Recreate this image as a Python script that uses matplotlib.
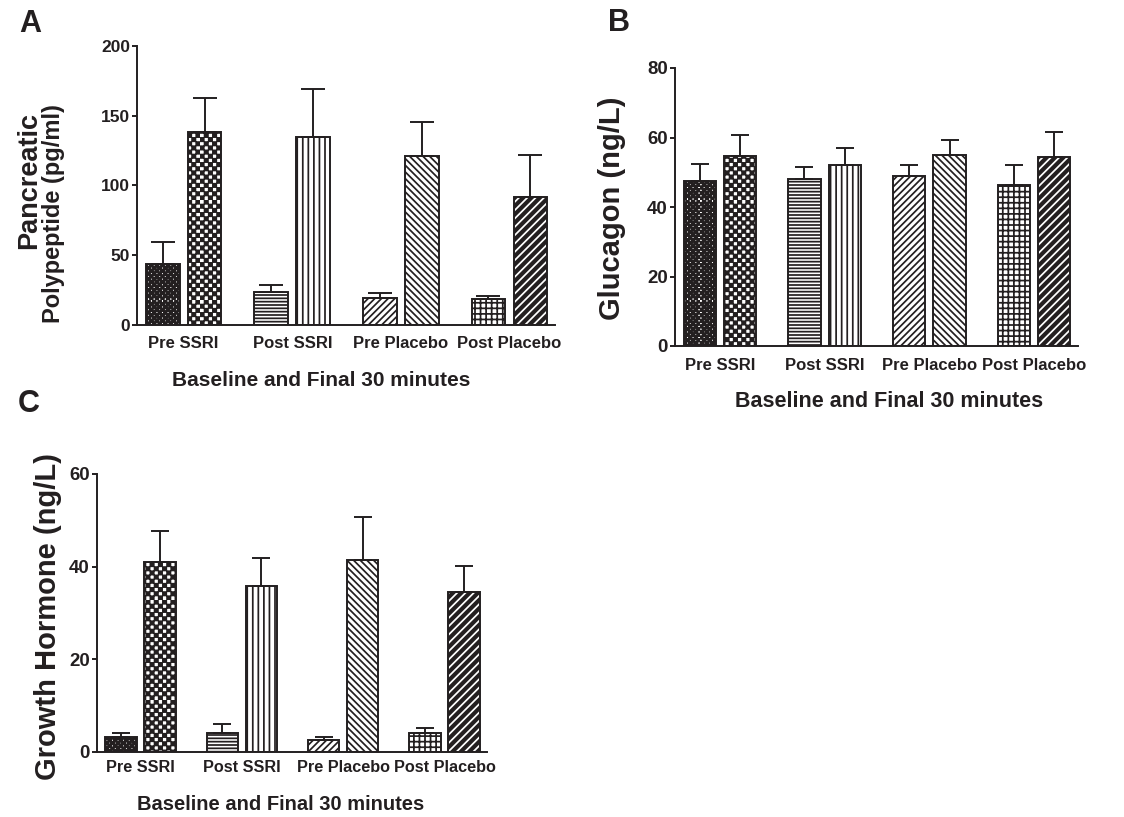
import numpy as np
import matplotlib
matplotlib.use("Agg")
import matplotlib.pyplot as plt
from matplotlib import hatch as mhatch
from matplotlib.path import Path

# ---- data ----
groups = ["Pre SSRI", "Post SSRI", "Pre Placebo", "Post Placebo"]
xlabel_text = "Baseline and Final 30 minutes"

pp_base = [43.5, 24.0, 19.0, 18.3]
pp_base_err = [16.0, 4.4, 3.7, 2.5]
pp_final = [138.0, 135.0, 121.0, 92.0]
pp_final_err = [25.0, 34.0, 24.7, 30.0]

glu_base = [47.4, 48.1, 48.9, 46.4]
glu_base_err = [5.1, 3.4, 3.2, 5.6]
glu_final = [54.6, 52.1, 55.0, 54.4]
glu_final_err = [6.1, 4.9, 4.4, 7.2]

gh_base = [3.3, 4.2, 2.6, 4.0]
gh_base_err = [0.8, 1.8, 0.6, 1.1]
gh_final = [41.0, 35.9, 41.5, 34.6]
gh_final_err = [6.8, 6.0, 9.3, 5.5]

# fill patterns, baseline bar / final bar of each group
base_hatch = ["oooooo", "-----", "/////", "+++"]
final_hatch = ["OOOO", "|||", "\\\\\\\\\\", "////"]
final_dark = [False, False, False, True]

INK = "#231f20"
W, H = 1124, 817


# =============================
#  checkerboard hatch patterns
# =============================
class _Checker(mhatch.HatchPatternBase):
    char = "o"
    inset = 0.0

    def __init__(self, hatch, density):
        self.n = int(hatch.count(self.char) * density)
        self.num_vertices = (self.n * self.n // 2) * 5

    def set_vertices_and_codes(self, vertices, codes):
        n = self.n
        step = 1.0 / n
        ii, jj = np.meshgrid(np.arange(n), np.arange(n))
        m = (ii + jj) % 2 == 0
        x0 = ii[m] * step + self.inset
        y0 = jj[m] * step + self.inset
        s = step - 2 * self.inset
        sq = np.stack([np.stack([x0, y0], 1), np.stack([x0 + s, y0], 1),
                       np.stack([x0 + s, y0 + s], 1), np.stack([x0, y0 + s], 1),
                       np.stack([x0, y0], 1)], axis=1)
        vertices[:] = sq.reshape(-1, 2)
        c = [Path.MOVETO, Path.LINETO, Path.LINETO, Path.LINETO, Path.CLOSEPOLY]
        codes[:] = np.tile(c, len(x0))


class FineChecker(_Checker):
    char = "o"
    inset = 0.0


class CoarseChecker(_Checker):
    char = "O"
    inset = 1.0 / 250


mhatch._hatch_types[mhatch._hatch_types.index(mhatch.SmallCircles)] = FineChecker
mhatch._hatch_types[mhatch._hatch_types.index(mhatch.LargeCircles)] = CoarseChecker

plt.rcParams["font.family"] = ["Liberation Sans", "DejaVu Sans"]
plt.rcParams["font.weight"] = "bold"
plt.rcParams["hatch.linewidth"] = 1.25
plt.rcParams["text.color"] = INK
plt.rcParams["axes.labelcolor"] = INK
plt.rcParams["xtick.color"] = INK
plt.rcParams["ytick.color"] = INK

fig = plt.figure(figsize=(W / 100, H / 100), dpi=100)


def px_rect(left, right, top, bottom):
    return [left / W, 1 - bottom / H, (right - left) / W, (bottom - top) / H]


def panel(rect, base, base_err, final, final_err, ymax, ystep,
          ylabel, ylab_pos, ylab_size, ytick_size, xtick_size, xtick_pad,
          xlab_pos, xlab_size, capsize):
    ax = fig.add_axes(rect)
    x = np.arange(len(groups))
    width, off = 0.31, 0.193

    # dark bar with white streaks sits under its outline
    for i in range(len(groups)):
        if final_dark[i]:
            ax.bar(x[i] + off, final[i], width, facecolor=INK, edgecolor="white",
                   linewidth=0, hatch=final_hatch[i], zorder=1)

    b1 = ax.bar(x - off, base, width, facecolor="white", edgecolor=INK,
                linewidth=1.4, zorder=2)
    b2 = ax.bar(x + off, final, width, facecolor="white", edgecolor=INK,
                linewidth=1.4, zorder=2)
    for i, b in enumerate(b1):
        b.set_hatch(base_hatch[i])
    for i, b in enumerate(b2):
        if final_dark[i]:
            b.set_facecolor("none")
        else:
            b.set_hatch(final_hatch[i])

    ax.errorbar(x - off, base, yerr=[np.zeros(len(base)), base_err], fmt="none",
                ecolor=INK, elinewidth=1.4, capsize=capsize, capthick=1.4, zorder=3)
    ax.errorbar(x + off, final, yerr=[np.zeros(len(final)), final_err], fmt="none",
                ecolor=INK, elinewidth=1.4, capsize=capsize, capthick=1.4, zorder=3)

    ax.set_xlim(-0.43, 3.42)
    ax.set_ylim(0, ymax)
    ax.set_yticks(np.arange(0, ymax + 1, ystep))
    ax.set_xticks(x)
    ax.set_xticklabels(groups, fontsize=xtick_size, fontweight="bold")
    for t in ax.get_yticklabels():
        t.set_fontsize(ytick_size)
        t.set_fontweight("bold")
    ax.tick_params(axis="x", length=0, pad=xtick_pad)
    ax.tick_params(axis="y", direction="out", length=3.6, width=1.4, pad=1.5)
    for s in ("top", "right"):
        ax.spines[s].set_visible(False)
    for s in ("left", "bottom"):
        ax.spines[s].set_linewidth(1.4)
        ax.spines[s].set_color(INK)

    ax.set_ylabel(ylabel, fontsize=ylab_size, fontweight="bold")
    ax.yaxis.set_label_coords(*ylab_pos)
    ax.yaxis.label.set_va("center")
    ax.set_xlabel(xlabel_text, fontsize=xlab_size, fontweight="bold")
    ax.xaxis.set_label_coords(*xlab_pos)
    ax.xaxis.label.set_va("center")
    return ax


# A: pancreatic polypeptide
axA = panel(px_rect(137, 555, 46, 325), pp_base, pp_base_err, pp_final, pp_final_err,
            200, 50, "Polypeptide (pg/ml)", (-0.2, 0.40), 17, 12.5, 12, 8,
            (0.44, -0.2), 15, 8.3)
axA.text(-0.257, 0.517, "Pancreatic", transform=axA.transAxes, rotation=90,
         fontsize=19.5, fontweight="bold", ha="center", va="center")

# B: glucagon
panel(px_rect(675, 1078, 68, 346), glu_base, glu_base_err, glu_final, glu_final_err,
      80, 20, "Glucagon (ng/L)", (-0.156, 0.496), 21, 13.4, 12, 9,
      (0.53, -0.2), 15.5, 6.5)

# C: growth hormone
panel(px_rect(97, 487, 474, 752), gh_base, gh_base_err, gh_final, gh_final_err,
      60, 20, "Growth Hormone (ng/L)", (-0.125, 0.486), 21, 13.4, 11.7, 6,
      (0.47, -0.19), 14.5, 6.5)

# panel letters
for letter, (px, py) in {"A": (30, 24), "B": (619, 23), "C": (29, 404)}.items():
    fig.text(px / W, 1 - py / H, letter, fontsize=22, fontweight="bold",
             ha="center", va="center")

fig.savefig("out.png", dpi=100)
